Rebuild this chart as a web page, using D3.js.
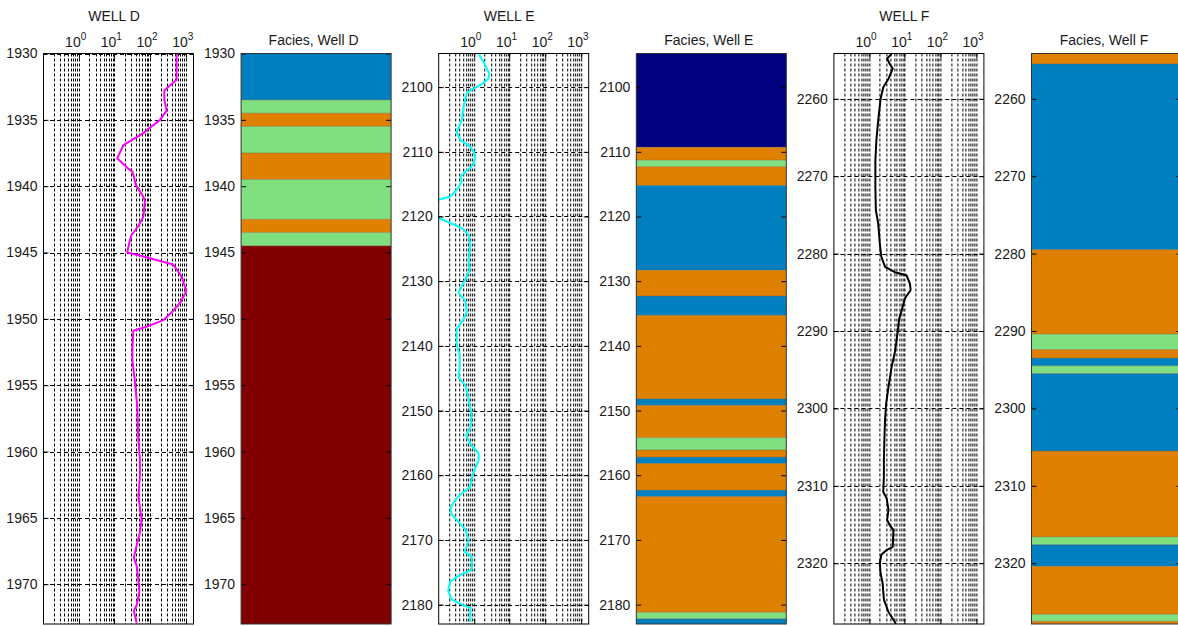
<!DOCTYPE html>
<html>
<head>
<meta charset="utf-8">
<script src="https://cdn.jsdelivr.net/npm/d3@7"></script>
<style>
  body { margin: 0; background: #fff; }
  text { font-family: "Liberation Sans", Arial, sans-serif; fill: #1a1a1a; }
</style>
</head>
<body>
<div class="chart"></div>
<script>
// ---- data ----
// Well D resistivity log
const wellD_depth = [1930.0, 1932.0, 1932.4, 1932.8, 1933.5, 1934.3, 1935.0, 1935.8, 1936.0, 1936.9, 1937.9, 1938.7, 1938.9, 1939.9, 1940.8, 1941.1, 1942.3, 1943.0, 1943.7, 1944.3, 1945.0, 1945.3, 1945.9, 1946.8, 1947.9, 1948.8, 1949.4, 1950.1, 1950.6, 1950.9, 1952.3, 1953.1, 1954.8, 1956.6, 1959.1, 1960.6, 1961.9, 1963.4, 1965.1, 1966.1, 1967.1, 1968.0, 1968.6, 1969.6, 1970.6, 1971.6, 1972.0, 1972.9];
const wellD_res = [556, 556, 363, 251, 251, 292, 191, 79, 65, 18, 12, 25, 32, 40, 65, 72, 65, 47, 30, 26, 23, 65, 447, 759, 1047, 692, 447, 234, 79, 34, 32, 32, 38, 44, 47, 52, 52, 47, 58, 52, 42, 35, 42, 47, 50, 42, 35, 42];

// Well E resistivity log
const wellE_depth = [2094.8, 2096.1, 2097.9, 2098.7, 2099.7, 2100.5, 2101.0, 2103.1, 2105.1, 2106.9, 2108.2, 2109.2, 2110.5, 2112.0, 2113.1, 2113.8, 2114.6, 2115.9, 2116.9, 2117.4, 2118.8, 2120.2, 2121.0, 2121.8, 2122.8, 2124.6, 2126.6, 2128.2, 2129.7, 2131.8, 2133.1, 2134.8, 2135.9, 2137.4, 2139.7, 2141.5, 2143.1, 2144.9, 2146.1, 2148.2, 2150.8, 2152.8, 2153.8, 2155.1, 2156.6, 2157.7, 2158.9, 2160.5, 2161.8, 2162.8, 2163.8, 2165.1, 2166.1, 2167.2, 2168.4, 2170.0, 2171.0, 2171.8, 2172.5, 2174.6, 2175.4, 2176.4, 2177.9, 2179.2, 2180.0, 2180.5, 2182.7];
const wellE_res = [1.35, 1.86, 2.69, 2.57, 1.51, 0.79, 0.63, 0.51, 0.46, 0.33, 0.42, 0.79, 1.10, 0.98, 0.58, 0.42, 0.46, 0.33, 0.22, 0.10, 0.03, 0.10, 0.22, 0.46, 0.71, 0.79, 0.71, 0.76, 0.58, 0.37, 0.58, 0.63, 0.51, 0.33, 0.33, 0.40, 0.40, 0.37, 0.58, 0.71, 0.87, 0.79, 0.60, 0.79, 1.35, 1.35, 1.10, 0.87, 0.79, 0.46, 0.30, 0.22, 0.24, 0.37, 0.58, 0.71, 0.63, 0.54, 0.87, 0.87, 0.42, 0.22, 0.19, 0.24, 0.46, 0.79, 0.79];

// Well F resistivity log
const wellF_depth = [2254.2, 2254.8, 2255.5, 2256.1, 2257.4, 2258.5, 2260.0, 2262.8, 2265.4, 2268.0, 2271.4, 2274.4, 2276.1, 2278.7, 2280.4, 2281.7, 2282.4, 2282.8, 2283.9, 2284.7, 2285.8, 2286.9, 2288.4, 2291.2, 2292.7, 2294.6, 2297.2, 2299.4, 2301.5, 2303.6, 2306.7, 2308.8, 2310.8, 2311.6, 2313.1, 2314.4, 2315.1, 2315.7, 2317.9, 2318.3, 2318.9, 2320.0, 2321.3, 2322.6, 2324.7, 2326.3, 2327.8];
const wellF_res = [4.3, 3.2, 3.8, 4.6, 3.5, 2.5, 2.1, 1.8, 1.6, 1.5, 1.5, 1.55, 1.8, 2.0, 2.2, 2.8, 5.3, 11.2, 14.0, 14.6, 10.1, 8.7, 7.0, 5.9, 5.3, 4.3, 3.5, 3.0, 2.8, 2.7, 2.6, 2.6, 2.5, 3.1, 3.5, 3.2, 3.8, 4.8, 4.6, 3.1, 2.2, 2.0, 2.1, 2.4, 2.6, 3.5, 5.6];

// facies intervals: tops (last value = base of the column) and facies codes
const faciesD_tops = [1930, 1933.5, 1934.5, 1935.5, 1937.5, 1939.5, 1942.5, 1943.5, 1944.5, 1973];
const faciesD_codes = [2, 3, 4, 3, 4, 3, 4, 3, 5];
const faciesE_tops = [2094.8, 2109.3, 2111.3, 2112.3, 2115.2, 2128.3, 2132.3, 2135.3, 2148.2, 2149.2, 2154.2, 2156.1, 2157.2, 2158.2, 2162.3, 2163.3, 2181.2, 2182.2, 2183.0];
const faciesE_codes = [1, 4, 3, 4, 2, 4, 2, 4, 2, 4, 3, 4, 2, 4, 2, 4, 3, 2];
const faciesF_tops = [2254.15, 2255.5, 2279.5, 2290.4, 2292.4, 2293.5, 2294.5, 2295.5, 2305.5, 2316.6, 2317.6, 2320.4, 2326.6, 2327.5, 2327.85];
const faciesF_codes = [4, 2, 4, 3, 4, 2, 3, 2, 4, 3, 2, 4, 3, 4];

const faciesCodes = [1, 2, 3, 4, 5];
const faciesColors = ["#000080", "#0080c0", "#80e080", "#e08000", "#800000"];

const wellNames = ["D", "E", "F"];
const depthDomains = [[1930, 1973], [2094.8, 2183.0], [2254.15, 2327.85]];
const depthTickValues = [d3.range(1930, 1971, 5), d3.range(2100, 2181, 10), d3.range(2260, 2321, 10)];
const resDomain = [0.1, 1600];
const resTickExp = [0, 1, 2, 3];
const curveColors = ["#ff00ff", "#00ffff", "#000000"];

const wells = [
    { depth: wellD_depth, res: wellD_res, tops: faciesD_tops, codes: faciesD_codes },
    { depth: wellE_depth, res: wellE_res, tops: faciesE_tops, codes: faciesE_codes },
    { depth: wellF_depth, res: wellF_res, tops: faciesF_tops, codes: faciesF_codes }
];

// ---- layout ----
const W = 1178, H = 626;
const plotTop = 53.5, plotBottom = 624;
const pw = 150;
const panelX = i => 43 + i * 197.6;

const faciesColor = d3.scaleOrdinal().domain(faciesCodes).range(faciesColors);

const svg = d3.select(".chart").append("svg")
    .attr("width", W)
    .attr("height", H);

const xScale = d3.scaleLog().domain(resDomain).range([0, pw]);

wells.forEach((well, wi) => {
    const yScale = d3.scaleLinear().domain(depthDomains[wi]).range([plotTop, plotBottom]);
    const ticks = depthTickValues[wi];

    // ---------- log panel ----------
    const lx = panelX(wi * 2);
    const g = svg.append("g").attr("transform", `translate(${lx},0)`);

    g.append("clipPath").attr("id", "clip" + wi)
        .append("rect").attr("x", 0).attr("y", plotTop).attr("width", pw).attr("height", plotBottom - plotTop);

    // vertical grid (major + minor)
    g.append("g").selectAll("line")
        .data(xScale.ticks().filter(v => v > resDomain[0]))
        .join("line")
        .attr("x1", d => Math.round(xScale(d)) + 0.5)
        .attr("x2", d => Math.round(xScale(d)) + 0.5)
        .attr("y1", plotTop)
        .attr("y2", plotBottom)
        .attr("stroke", "#000")
        .attr("stroke-width", 1)
        .attr("stroke-dasharray", "3,2");

    // horizontal grid at depth ticks
    g.append("g").selectAll("line")
        .data(ticks)
        .join("line")
        .attr("x1", 0).attr("x2", pw)
        .attr("y1", d => Math.round(yScale(d)) + 0.5)
        .attr("y2", d => Math.round(yScale(d)) + 0.5)
        .attr("stroke", "#000")
        .attr("stroke-dasharray", "4,3");

    // resistivity curve
    const pts = well.depth.map((d, i) => ({ depth: d, res: well.res[i] }));
    g.append("path")
        .datum(pts)
        .attr("clip-path", `url(#clip${wi})`)
        .attr("fill", "none")
        .attr("stroke", curveColors[wi])
        .attr("stroke-width", 2)
        .attr("stroke-linejoin", "round")
        .attr("d", d3.line()
            .x(d => xScale(d.res))
            .y(d => yScale(d.depth)));

    // y axis ticks + labels
    const yAxisL = d3.axisLeft(yScale).tickValues(ticks).tickSize(-5).tickPadding(6).tickFormat(d3.format("d"));
    const yAxisR = d3.axisRight(yScale).tickValues(ticks).tickSize(-5).tickFormat("");
    const ga = g.append("g").attr("transform", "translate(0.5,0)").call(yAxisL);
    const gb = g.append("g").attr("transform", `translate(${pw + 0.5},0)`).call(yAxisR);
    [ga, gb].forEach(a => {
        a.select(".domain").remove();
        a.selectAll("line").attr("stroke", "#000");
        a.selectAll("text").attr("font-size", 14).attr("fill", "#1a1a1a").style("font-family", "Liberation Sans, Arial");
    });

    // x ticks at decades (top and bottom, inward)
    const decades = resTickExp.map(e => Math.pow(10, e));
    g.append("g").selectAll("line")
        .data(decades)
        .join("line")
        .attr("x1", d => Math.round(xScale(d)) + 0.5)
        .attr("x2", d => Math.round(xScale(d)) + 0.5)
        .attr("y1", plotTop).attr("y2", plotTop + 5)
        .attr("stroke", "#000");
    g.append("g").selectAll("line")
        .data(decades)
        .join("line")
        .attr("x1", d => Math.round(xScale(d)) + 0.5)
        .attr("x2", d => Math.round(xScale(d)) + 0.5)
        .attr("y1", plotBottom - 5).attr("y2", plotBottom)
        .attr("stroke", "#000");

    // x tick labels "10^n"
    const lab = g.append("g").selectAll("text")
        .data(resTickExp)
        .join("text")
        .attr("x", d => xScale(Math.pow(10, d)) - 3)
        .attr("y", 47)
        .attr("text-anchor", "middle")
        .attr("font-size", 14);
    lab.append("tspan").text("10");
    lab.append("tspan").attr("dy", -7).attr("font-size", 10).text(d => d);

    // box
    g.append("rect")
        .attr("x", 0.5).attr("y", plotTop)
        .attr("width", pw).attr("height", plotBottom - plotTop)
        .attr("fill", "none")
        .attr("stroke", "#000");

    // title
    g.append("text")
        .attr("x", pw / 2 - 4)
        .attr("y", 21)
        .attr("text-anchor", "middle")
        .attr("font-size", 14)
        .text("WELL " + wellNames[wi]);

    // ---------- facies panel ----------
    const fx = panelX(wi * 2 + 1);
    const f = svg.append("g").attr("transform", `translate(${fx},0)`);
    const intervals = well.codes.map((c, i) => ({ code: c, t: well.tops[i], b: well.tops[i + 1] }));

    f.append("g").selectAll("rect")
        .data(intervals)
        .join("rect")
        .attr("x", 0.5)
        .attr("width", pw)
        .attr("y", d => yScale(d.t))
        .attr("height", d => yScale(d.b) - yScale(d.t))
        .attr("fill", d => faciesColor(d.code));

    // thin band edges
    f.append("g").selectAll("line")
        .data(intervals.slice(1))
        .join("line")
        .attr("x1", 0.5).attr("x2", pw + 0.5)
        .attr("y1", d => yScale(d.t))
        .attr("y2", d => yScale(d.t))
        .attr("stroke", "#6b5a3a")
        .attr("stroke-opacity", 0.5)
        .attr("stroke-width", 0.8);

    const fa = f.append("g").attr("transform", "translate(0.5,0)").call(yAxisL);
    const fb = f.append("g").attr("transform", `translate(${pw + 0.5},0)`).call(yAxisR);
    [fa, fb].forEach(a => {
        a.select(".domain").remove();
        a.selectAll("line").attr("stroke", "#000");
        a.selectAll("text").attr("font-size", 14).attr("fill", "#1a1a1a").style("font-family", "Liberation Sans, Arial");
    });

    f.append("rect")
        .attr("x", 0.5).attr("y", plotTop)
        .attr("width", pw).attr("height", plotBottom - plotTop)
        .attr("fill", "none")
        .attr("stroke", "#333");

    f.append("text")
        .attr("x", pw / 2 - 2)
        .attr("y", 45)
        .attr("text-anchor", "middle")
        .attr("font-size", 14)
        .text("Facies, Well " + wellNames[wi]);
});
</script>
</body>
</html>
